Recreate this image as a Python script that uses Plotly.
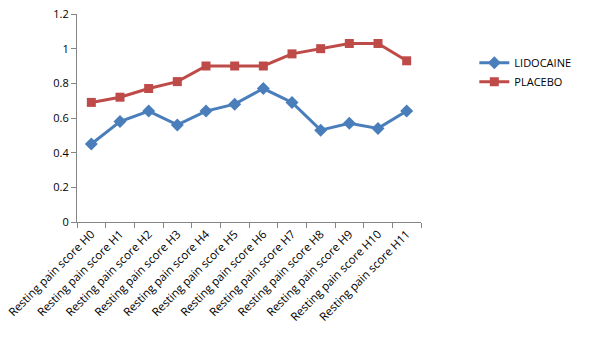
import plotly.graph_objects as go

categories = [f"Resting pain score H{i}" for i in range(12)]
lidocaine = [0.45, 0.58, 0.64, 0.56, 0.64, 0.68, 0.77, 0.69, 0.53, 0.57, 0.54, 0.64]
placebo = [0.69, 0.72, 0.77, 0.81, 0.90, 0.90, 0.90, 0.97, 1.00, 1.03, 1.03, 0.93]
y_ticks = [0, 0.2, 0.4, 0.6, 0.8, 1.0, 1.2]

fig = go.Figure()
fig.add_trace(go.Scatter(
    x=categories, y=lidocaine, name="LIDOCAINE", mode="lines+markers",
    line=dict(color="#4A7EBB", width=3),
    marker=dict(symbol="diamond", size=10, color="#4A7EBB"),
))
fig.add_trace(go.Scatter(
    x=categories, y=placebo, name="PLACEBO", mode="lines+markers",
    line=dict(color="#BE4B48", width=3),
    marker=dict(symbol="square", size=9, color="#BE4B48"),
))

fig.update_layout(
    width=609, height=346,
    margin=dict(l=77, r=188, t=14, b=124),
    paper_bgcolor="white", plot_bgcolor="white",
    font=dict(family="Open Sans", size=11, color="black"),
    showlegend=True,
    legend=dict(x=1.155, y=0.72, xanchor="left", yanchor="middle",
                bgcolor="rgba(0,0,0,0)", font=dict(size=11),
                tracegroupgap=0),
    xaxis=dict(
        type="category", showgrid=False, showline=True, linecolor="#868686",
        linewidth=1, ticks="outside", tickson="boundaries", ticklen=5,
        tickcolor="#868686", tickangle=-45, tickfont=dict(size=11.5),
        range=[-0.5, 11.5], automargin=False,
    ),
    yaxis=dict(
        range=[0, 1.2], tickvals=y_ticks, ticktext=["0", "0.2", "0.4", "0.6", "0.8", "1", "1.2"],
        showgrid=False, showline=True, linecolor="#868686", linewidth=1,
        ticks="outside", ticklen=5, tickcolor="#868686", zeroline=False,
        tickfont=dict(size=11), automargin=False,
    ),
)

fig.write_html("out.html")
